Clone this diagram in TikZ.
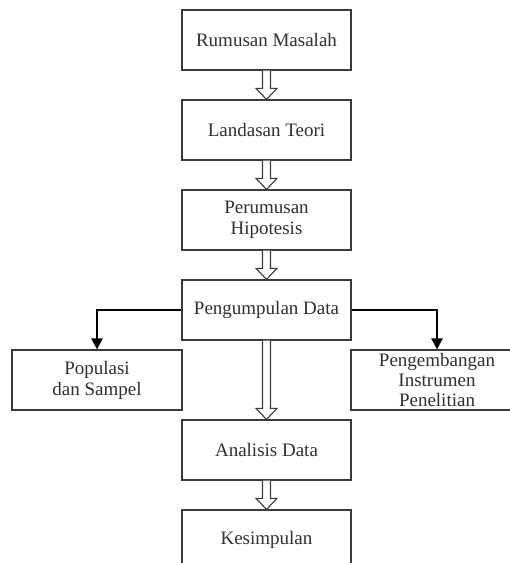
\documentclass[tikz,border=0pt]{standalone}
\usepackage{fontspec}
\setmainfont{Liberation Serif}
\usetikzlibrary{arrows.meta,calc}
\definecolor{boxline}{HTML}{3A3A3A}
\definecolor{boxtext}{HTML}{303030}
\tikzset{
  stepbox/.style={draw=boxline, line width=1.2pt, minimum width=169pt, minimum height=60pt,
    inner sep=0pt, align=center, text=boxtext, font=\fontsize{19}{21}\selectfont},
  hollowarr/.style={draw=boxline, line width=1.1pt, fill=white, line join=miter},
  thickarr/.style={draw=black, line width=2.4pt, -{Triangle[length=11pt,width=11pt]}}
}
\newcommand\hollowconn[2]{%
  \draw[hollowarr] let \p1=(#1.south), \p2=(#2.north) in
    (\x1-4pt,\y1) -- (\x1-4pt,\y2+11pt) -- (\x1-10.5pt,\y2+11pt) -- (\x1,\y2)
    -- (\x1+10.5pt,\y2+11pt) -- (\x1+4pt,\y2+11pt) -- (\x1+4pt,\y1);}
\begin{document}
\begin{tikzpicture}[x=1pt,y=-1pt]
\useasboundingbox (0,0) rectangle (510,563);
\clip (0,0) rectangle (510,563);
\fill[white] (0,0) rectangle (510,563);
\node[stepbox] (rm) at (266.5,40) {Rumusan Masalah};
\node[stepbox] (lt) at (266.5,130) {Landasan Teori};
\node[stepbox] (ph) at (266.5,220) {Perumusan\\Hipotesis};
\node[stepbox] (pd) at (266.5,310) {Pengumpulan Data};
\node[stepbox, minimum width=170pt] (ps) at (97,380) {Populasi\\dan Sampel};
\node[stepbox, minimum width=172pt, font=\fontsize{19}{20}\selectfont] (pi) at (437,380) {Pengembangan\\Instrumen\\Penelitian};
\node[stepbox] (ad) at (266.5,450) {Analisis Data};
\node[stepbox] (ks) at (266.5,540) {Kesimpulan};
\hollowconn{rm}{lt}
\hollowconn{lt}{ph}
\hollowconn{ph}{pd}
\hollowconn{pd}{ad}
\hollowconn{ad}{ks}
\draw[thickarr] (pd.west) -| (ps.north);
\draw[thickarr] (pd.east) -| (pi.north);
\end{tikzpicture}
\end{document}
